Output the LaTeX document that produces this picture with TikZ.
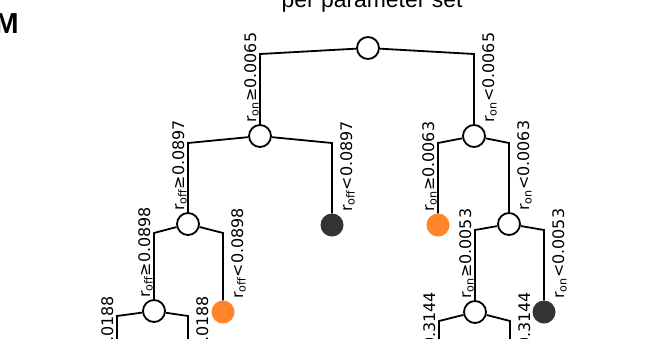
\documentclass[tikz,border=0pt]{standalone}
\usepackage{fontspec}
\setmainfont{DejaVu Sans}
\newfontfamily\headfont{Liberation Sans}
\usetikzlibrary{calc}
\definecolor{leaforange}{RGB}{255,132,42}
\definecolor{leafdark}{RGB}{51,51,51}

\begin{document}
\begin{tikzpicture}[x=1bp,y=-1bp,
  split/.style={circle, draw=black, fill=white, line width=1.8bp, minimum size=22bp, inner sep=0pt},
  leafo/.style={circle, fill=leaforange, minimum size=23bp, inner sep=0pt},
  leafd/.style={circle, fill=leafdark, minimum size=23bp, inner sep=0pt},
  edge/.style={line width=1.8bp, black, line join=miter},
  lab/.style={font=\fontsize{16}{16}\selectfont, rotate=90, inner sep=0pt, anchor=base west},
]
\clip (0,0) rectangle (664,338);

% heading and panel letter
\node[anchor=base, font=\headfont\fontsize{23}{23}\selectfont] (title) at (372,7) {per parameter set};
\node[anchor=base west, font=\headfont\bfseries\fontsize{29}{29}\selectfont] (panel) at (-9,33) {M};

% split points (bends of the connectors)
\coordinate (cL0) at (260,54);  \coordinate (cR0) at (474,54);
\coordinate (cL1a) at (188,143); \coordinate (cL1b) at (332,143);
\coordinate (cL2a) at (154,233); \coordinate (cL2b) at (223,233);
\coordinate (cL3a) at (117,316); \coordinate (cL3b) at (188,316);
\coordinate (cR1a) at (438,143); \coordinate (cR1b) at (509,143);
\coordinate (cR2a) at (475,230); \coordinate (cR2b) at (544,230);
\coordinate (cR3a) at (439,321); \coordinate (cR3b) at (510,321);
% lower subtrees continue below the frame
\coordinate (L4a) at (117,400); \coordinate (L4b) at (188,400);
\coordinate (R4a) at (439,396); \coordinate (R4b) at (510,396);

% tree nodes
\node[split] (root) at (368,48) {};
\node[split] (L1) at (260,136) {};
\node[split] (R1) at (474,136) {};
\node[split] (L2) at (188,224) {};
\node[leafd] (D1) at (332,225) {};
\node[split] (L3) at (154,311) {};
\node[leafo] (O1) at (223,312) {};
\node[leafo] (O2) at (438,225) {};
\node[split] (R2) at (509,224) {};
\node[split] (R3) at (475,312) {};
\node[leafd] (D2) at (544,312) {};

% connectors
\draw[edge] (root) -- (cL0) -- (L1);
\draw[edge] (root) -- (cR0) -- (R1);
\draw[edge] (L1) -- (cL1a) -- (L2);
\draw[edge] (L1) -- (cL1b) -- (D1);
\draw[edge] (L2) -- (cL2a) -- (L3);
\draw[edge] (L2) -- (cL2b) -- (O1);
\draw[edge] (L3) -- (cL3a) -- (L4a);
\draw[edge] (L3) -- (cL3b) -- (L4b);
\draw[edge] (R1) -- (cR1a) -- (O2);
\draw[edge] (R1) -- (cR1b) -- (R2);
\draw[edge] (R2) -- (cR2a) -- (R3);
\draw[edge] (R2) -- (cR2b) -- (D2);
\draw[edge] (R3) -- (cR3a) -- (R4a);
\draw[edge] (R3) -- (cR3b) -- (R4b);

% split conditions
\node[lab] (t1) at ($(L1)+(-4,-13)$) {r\textsubscript{on}≥0.0065};
\node[lab] (t2) at ($(R1)+(20,-13)$) {r\textsubscript{on}<0.0065};
\node[lab] (t3) at ($(L2)+(-4,-13)$) {r\textsubscript{off}≥0.0897};
\node[lab] (t4) at ($(D1)+(20,-13)$) {r\textsubscript{off}<0.0897};
\node[lab] (t5) at ($(L3)+(-4,-13)$) {r\textsubscript{off}≥0.0898};
\node[lab] (t6) at ($(O1)+(20,-13)$) {r\textsubscript{off}<0.0898};
\node[lab] (t7) at ($(L4a)+(-4,-13)$) {r\textsubscript{off}≥0.0188};
\node[lab] (t8) at ($(L4b)+(20,-13)$) {r\textsubscript{off}<0.0188};
\node[lab] (t9) at ($(O2)+(-4,-13)$) {r\textsubscript{on}≥0.0063};
\node[lab] (t10) at ($(R2)+(20,-13)$) {r\textsubscript{on}<0.0063};
\node[lab] (t11) at ($(R3)+(-4,-13)$) {r\textsubscript{on}≥0.0053};
\node[lab] (t12) at ($(D2)+(20,-13)$) {r\textsubscript{on}<0.0053};
\node[lab] (t13) at ($(R4a)+(-4,-13)$) {r\textsubscript{off}≥0.3144};
\node[lab] (t14) at ($(R4b)+(20,-13)$) {r\textsubscript{off}<0.3144};
\end{tikzpicture}
\end{document}
